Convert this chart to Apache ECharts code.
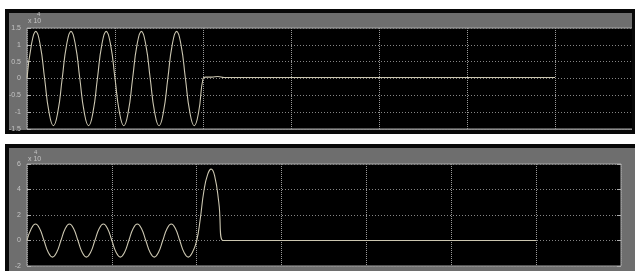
<!DOCTYPE html>
<html>
<head>
<meta charset="utf-8">
<script src="https://cdn.jsdelivr.net/npm/echarts@6/dist/echarts.min.js"></script>
<style>
html,body{margin:0;padding:0;background:#fff;}
#c{width:635px;height:271px;}
</style>
</head>
<body>
<div id="c"></div>
<script>
// ---- data (values in units of 10^4) ----
var topX = [0,0.05,0.1,0.15,0.2,0.25,0.3,0.35,0.4,0.45,0.5,0.55,0.6,0.65,0.7,0.75,0.8,0.85,0.9,0.95,
            1.0,1.05,1.1,1.15,1.2,1.25,1.3,1.35,1.4,1.45,1.5,1.55,1.6,1.65,1.7,1.75,1.8,1.85,1.9,1.95,
            2.0,2.03,2.1,2.17,2.24,6.0];
var topY = [0,1.0,1.4,1.0,0,-1.0,-1.4,-1.0, 0,1.0,1.4,1.0,0,-1.0,-1.4,-1.0, 0,1.0,1.4,1.0,0,-1.0,-1.4,-1.0,
            0,1.0,1.4,1.0,0,-1.0,-1.4,-1.0, 0,1.0,1.4,1.0,0,-1.0,-1.4,-1.0,
            0,0.04,0.04,0.06,0.03,0.03];
var botX = [0,0.05,0.1,0.15,0.2,0.25,0.3,0.35,0.4,0.45,0.5,0.55,0.6,0.65,0.7,0.75,0.8,0.85,0.9,0.95,
            1.0,1.05,1.1,1.15,1.2,1.25,1.3,1.35,1.4,1.45,1.5,1.55,1.6,1.65,1.7,1.75,1.8,1.85,1.9,1.95,
            2.0,2.04,2.085,2.13,2.17,2.21,2.26,2.31,6.0];
var botY = [0,0.92,1.3,0.92,0,-0.92,-1.3,-0.92, 0,0.92,1.3,0.92,0,-0.92,-1.3,-0.92, 0,0.92,1.3,0.92,0,-0.92,-1.3,-0.92,
            0,0.92,1.3,0.92,0,-0.92,-1.3,-0.92, 0,0.92,1.3,0.92,0,-0.92,-1.3,-0.92,
            0,1.6,3.9,5.2,5.6,5.1,3.0,0,0];
var topYTicks = {min:-1.5, max:1.5, interval:0.5};
var botYTicks = {min:-2, max:6, interval:2};
var exponentBase = 'x 10';
var exponentPow = '4';

function zip(xs, ys){ var out=[]; for(var i=0;i<xs.length;i++) out.push([xs[i], ys[i]]); return out; }

var lineColor = '#cbc6b0';
var gridLine = '#858585';
var labelColor = '#c4c4c4';
var panelGray = '#6e6e6e';

function xAxis(idx, max){
  return {
    type:'value', gridIndex:idx, min:0, max:max, interval:1,
    axisLabel:{show:false}, axisTick:{show:false}, axisLine:{show:false},
    splitLine:{show:true, lineStyle:{color:'#9a9a9a', type:[1,1], width:1}}
  };
}
function yAxis(idx, t, pos, labels){
  return {
    type:'value', gridIndex:idx, min:t.min, max:t.max, interval:t.interval, position:pos,
    axisLine:{show:false},
    axisTick:{show:true, inside:true, length:4, lineStyle:{color:'#b0b0b0'}},
    axisLabel:{show:labels, color:labelColor, fontSize:7, fontFamily:'Liberation Sans, Arial', margin:6,
      formatter:function(v){ return String(Math.round(v*10)/10); }},
    splitLine:{show:labels, lineStyle:{color:gridLine, type:[1,2], width:1}}
  };
}

var chart = echarts.init(document.getElementById('c'), null, {renderer:'canvas'});
chart.setOption({
  backgroundColor:'#ffffff',
  animation:false,
  graphic:[
    {type:'rect', z:-10, shape:{x:5,y:9,width:630,height:125}, style:{fill:'#080808'}},
    {type:'rect', z:-9, shape:{x:9,y:13,width:623,height:117}, style:{fill:panelGray}},
    {type:'rect', z:-10, shape:{x:5,y:144,width:630,height:127}, style:{fill:'#080808'}},
    {type:'rect', z:-9, shape:{x:9,y:148,width:626,height:123}, style:{fill:panelGray}},
    {type:'rect', z:100, shape:{x:632,y:9,width:3,height:125}, style:{fill:'#080808'}},
    {type:'text', z:100, left:28, top:18, style:{text:exponentBase, fill:labelColor, fontSize:7, fontFamily:'Liberation Sans, Arial'}},
    {type:'text', z:100, left:37, top:11, style:{text:exponentPow, fill:labelColor, fontSize:6, fontFamily:'Liberation Sans, Arial'}},
    {type:'text', z:100, left:28, top:156, style:{text:exponentBase, fill:labelColor, fontSize:7, fontFamily:'Liberation Sans, Arial'}},
    {type:'text', z:100, left:34, top:149, style:{text:exponentPow, fill:labelColor, fontSize:6, fontFamily:'Liberation Sans, Arial'}}
  ],
  grid:[
    {left:27, top:28, width:610, height:101, show:true, backgroundColor:'#000', borderColor:'#a8a8a8', borderWidth:1},
    {left:27, top:164, width:594, height:102, show:true, backgroundColor:'#000', borderColor:'#a8a8a8', borderWidth:1}
  ],
  xAxis:[ xAxis(0, 610/88.3), xAxis(1, 7) ],
  yAxis:[
    yAxis(0, topYTicks, 'left', true),
    yAxis(1, botYTicks, 'left', true),
    yAxis(1, botYTicks, 'right', false)
  ],
  series:[
    {type:'line', xAxisIndex:0, yAxisIndex:0, data:zip(topX, topY), smooth:0.5, showSymbol:false,
     lineStyle:{color:lineColor, width:1.1}},
    {type:'line', xAxisIndex:1, yAxisIndex:1, data:zip(botX, botY), smooth:0.5, showSymbol:false,
     lineStyle:{color:lineColor, width:1.1}}
  ]
});
</script>
</body>
</html>
